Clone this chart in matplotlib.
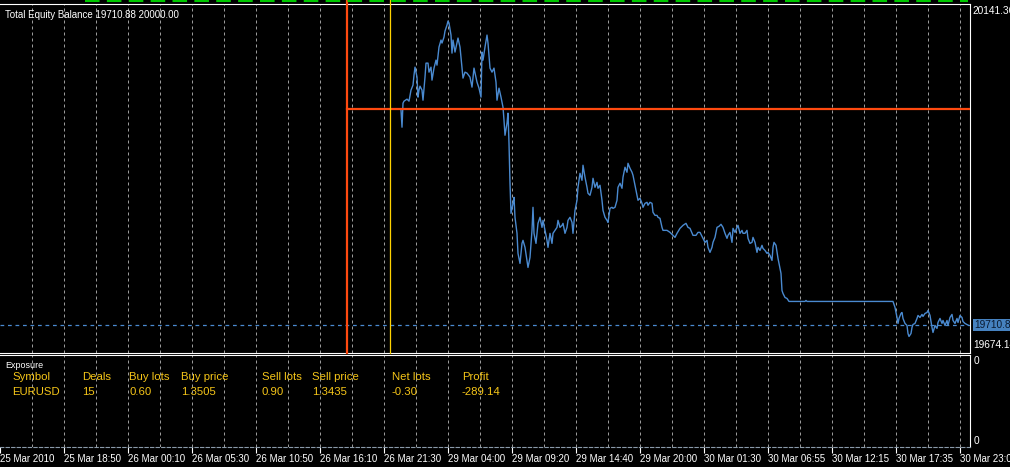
import matplotlib
matplotlib.use('Agg')
import matplotlib.pyplot as plt
from matplotlib.lines import Line2D

# ---------------- data ----------------
equity_bars = [
    401, 402, 403, 404, 407, 409, 411, 413, 414, 415,
    417, 418, 419, 420, 422, 423, 425, 426, 428, 429,
    431, 432, 434, 436, 437, 439, 441, 442, 444, 445,
    447, 448, 449, 451, 452, 453, 455, 457, 458, 460,
    462, 463, 465, 467, 470, 472, 474, 477, 479, 481,
    482, 483, 485, 487, 488, 490, 492, 494, 496, 497,
    499, 501, 503, 504, 505, 507, 508, 509, 510, 511,
    513, 514, 515, 517, 518, 520, 522, 523, 525, 527,
    528, 530, 532, 533, 534, 536, 538, 540, 542, 543,
    545, 547, 548, 550, 552, 553, 555, 557, 558, 560,
    562, 563, 565, 567, 568, 570, 572, 573, 575, 577,
    578, 580, 582, 583, 585, 587, 588, 590, 592, 593,
    595, 597, 598, 600, 602, 603, 605, 607, 608, 610,
    612, 613, 615, 617, 618, 620, 622, 623, 625, 627,
    628, 630, 632, 633, 635, 637, 638, 640, 642, 643,
    645, 647, 648, 650, 652, 653, 655, 657, 658, 660,
    662, 663, 667, 670, 673, 675, 677, 680, 683, 686,
    688, 690, 693, 696, 698, 700, 703, 705, 707, 708,
    710, 712, 713, 715, 717, 719, 721, 723, 725, 727,
    728, 730, 732, 733, 735, 737, 738, 740, 742, 743,
    745, 747, 748, 750, 752, 753, 755, 757, 758, 760,
    762, 763, 765, 767, 768, 770, 772, 773, 774, 776,
    778, 779, 781, 782, 783, 785, 787, 789, 805, 806,
    807, 893, 895, 897, 898, 899, 901, 902, 903, 905,
    907, 908, 909, 911, 912, 913, 915, 917, 918, 920,
    922, 923, 925, 927, 928, 930, 932, 933, 935, 937,
    938, 940, 942, 943, 945, 947, 948, 950, 952, 953,
    955, 957, 958, 960, 962, 963, 965, 968,
]
equity_values = [
    19999.0, 19976.2, 20008.4, 20011.1, 20013.8, 20011.1, 20025.9, 20032.6, 20046.0, 20056.7,
    20043.3, 20016.5, 20025.9, 20031.2, 20025.9, 20012.4, 20043.3, 20062.1, 20062.1, 20050.0,
    20056.7, 20039.3, 20055.4, 20066.1, 20059.4, 20083.6, 20093.0, 20089.0, 20097.0, 20105.1,
    20113.1, 20118.5, 20115.8, 20099.7, 20075.5, 20093.0, 20076.9, 20089.0, 20095.7, 20083.6,
    20055.4, 20042.0, 20050.0, 20048.7, 20043.3, 20029.9, 20055.4, 20036.6, 20028.5, 20016.5,
    20076.9, 20066.1, 20083.6, 20099.7, 20089.0, 20055.4, 20050.0, 20055.4, 20036.6, 20012.4,
    20028.5, 20016.5, 20003.0, 19985.6, 19965.4, 19981.6, 19995.0, 19954.7, 19901.0, 19860.7,
    19874.1, 19882.2, 19855.4, 19833.9, 19807.0, 19793.6, 19820.4, 19824.5, 19815.1, 19797.6,
    19788.2, 19801.6, 19837.9, 19868.8, 19833.9, 19820.4, 19847.3, 19855.4, 19841.9, 19851.3,
    19837.9, 19824.5, 19815.1, 19833.9, 19820.4, 19833.9, 19837.9, 19841.9, 19851.3, 19841.9,
    19844.6, 19847.3, 19833.9, 19841.9, 19851.3, 19855.4, 19848.6, 19833.9, 19864.7, 19878.2,
    19895.6, 19914.4, 19905.0, 19925.2, 19909.1, 19895.6, 19887.6, 19884.9, 19895.6, 19907.7,
    19895.6, 19902.3, 19894.3, 19898.3, 19878.2, 19864.7, 19855.4, 19851.3, 19848.6, 19867.4,
    19868.8, 19867.4, 19868.8, 19878.2, 19895.6, 19901.0, 19894.3, 19909.1, 19922.5, 19915.8,
    19927.8, 19921.1, 19915.8, 19911.7, 19898.3, 19884.9, 19878.2, 19880.9, 19874.1, 19868.8,
    19874.1, 19875.5, 19871.5, 19875.5, 19874.1, 19862.1, 19858.0, 19858.0, 19855.4, 19854.0,
    19841.9, 19837.9, 19837.9, 19835.2, 19831.2, 19828.5, 19833.9, 19840.6, 19844.6, 19847.3,
    19841.9, 19840.6, 19831.2, 19831.2, 19835.2, 19835.2, 19827.2, 19821.8, 19824.5, 19815.1,
    19808.4, 19815.1, 19821.8, 19828.5, 19841.9, 19843.3, 19846.0, 19841.9, 19833.9, 19827.2,
    19831.2, 19835.2, 19821.8, 19840.6, 19835.2, 19841.9, 19844.6, 19833.9, 19837.9, 19833.9,
    19833.9, 19837.9, 19827.2, 19820.4, 19821.8, 19828.5, 19821.8, 19808.4, 19815.1, 19811.0,
    19817.8, 19813.7, 19811.0, 19807.0, 19808.4, 19804.3, 19797.6, 19815.1, 19821.8, 19817.8,
    19800.3, 19793.6, 19780.2, 19757.3, 19753.3, 19747.9, 19746.6, 19742.6, 19742.6, 19743.9,
    19742.6, 19742.6, 19734.6, 19721.1, 19713.1, 19719.8, 19726.5, 19727.8, 19719.8, 19713.1,
    19710.4, 19699.6, 19695.6, 19699.6, 19707.7, 19711.7, 19713.1, 19719.8, 19723.8, 19721.1,
    19725.2, 19722.5, 19726.5, 19727.8, 19730.5, 19723.8, 19707.7, 19701.0, 19710.4, 19706.4,
    19714.4, 19719.8, 19713.1, 19717.1, 19710.4, 19717.1, 19710.4, 19721.1, 19725.2, 19717.1,
    19713.1, 19719.8, 19714.4, 19723.8, 19721.1, 19715.7, 19713.1, 19710.88,
]

balance_value = 20000.00
balance_start_bar = 347
marker_bar = 390
last_equity = 19710.88
y_max_label = 20141.36
y_min_label = 19674.14
n_bars = 970

tick_bars = [0, 64, 128, 192, 256, 320, 384, 448, 512, 576, 640, 704, 768, 832, 896, 960]
tick_labels = ["25 Mar 2010", "25 Mar 18:50", "26 Mar 00:10", "26 Mar 05:30",
               "26 Mar 10:50", "26 Mar 16:10", "26 Mar 21:30", "29 Mar 04:00",
               "29 Mar 09:20", "29 Mar 14:40", "29 Mar 20:00", "30 Mar 01:30",
               "30 Mar 06:55", "30 Mar 12:15", "30 Mar 17:35", "30 Mar 23:00"]
grid_bars = list(range(32, 970, 32))

exposure_headers = ["Symbol", "Deals", "Buy lots", "Buy price",
                    "Sell lots", "Sell price", "Net lots", "Profit"]
exposure_row = ["EURUSD", "15", "0.60", "1.3505", "0.90", "1.3435", "-0.30", "-289.14"]

# ---------------- style ----------------
W, H = 1010, 467
FONT = "Liberation Sans"
BLUE = "#4a8ad0"
ORANGE = "#ff4a10"
YELLOW = "#ffd200"
GOLD = "#f5c518"
GRID = "#9a9a9a"

fig = plt.figure(figsize=(W / 100, H / 100), dpi=100, facecolor="black")


def frac(x0, y0, x1, y1):
    return [x0 / W, 1 - y1 / H, (x1 - x0) / W, (y1 - y0) / H]


ax = fig.add_axes(frac(0, 4, 970, 352.5))
ax2 = fig.add_axes(frac(0, 355, 970, 447))

for a in (ax, ax2):
    a.set_facecolor("black")
    a.set_xlim(0, n_bars)
    for b in grid_bars:
        a.axvline(b, color=GRID, lw=0.72, ls=(0, (3, 3)), zorder=1)
    a.spines["left"].set_visible(False)
    a.spines["top"].set_color("white")
    a.spines["right"].set_color("white")
    a.set_yticks([])

# main panel
ax.set_ylim(y_min_label, y_max_label)
ax.spines["bottom"].set_color("white")
ax.set_xticks([])
ax.plot(equity_bars, equity_values, color=BLUE, lw=1.0, zorder=4)
ax.axhline(last_equity, color=BLUE, lw=0.9, ls=(0, (3, 3)), zorder=3)
ax.axhline(balance_value, xmin=balance_start_bar / n_bars, xmax=1, color=ORANGE, lw=1.6, zorder=5)
ax.axvline(balance_start_bar, ymin=0, ymax=1.012, color=ORANGE, lw=1.6, zorder=5, clip_on=False)
ax.axvline(marker_bar, ymin=0, ymax=1.012, color=YELLOW, lw=0.9, zorder=5, clip_on=False)

ax.text(5 / 970, 1 - 10.5 / 348.5, f"Total Equity Balance {last_equity:.2f} {balance_value:.2f}",
        transform=ax.transAxes, color="white", fontsize=7, family=FONT, va="center", ha="left")
ax.text(1.003, 1 - 2 / 348.5, f"{y_max_label:.2f}", transform=ax.transAxes, color="white",
        fontsize=7.3, family=FONT, va="top", ha="left", clip_on=False)
ax.text(1.003, 2 / 348.5, f"{y_min_label:.2f}", transform=ax.transAxes, color="white",
        fontsize=7.3, family=FONT, va="bottom", ha="left", clip_on=False)
ax.annotate(f"{last_equity:.2f}", xy=(1.0, last_equity), xycoords=("axes fraction", "data"),
            xytext=(3, 0), textcoords="offset points", color="#0a1a30", fontsize=7.3, family=FONT,
            va="center", ha="left", annotation_clip=False,
            bbox=dict(boxstyle="square,pad=0.12", fc="#4682c0", ec="none"))

# exposure panel
ax2.set_ylim(0, 1)
ax2.spines["bottom"].set_color("#8a9aaa")
ax2.spines["bottom"].set_linestyle((0, (3, 2)))
ax2.set_xticks(tick_bars)
ax2.set_xticklabels(tick_labels, ha="left", family=FONT, fontsize=7, color="white")
ax2.tick_params(axis="x", colors="white", length=4, width=0.8, pad=1, labelcolor="white")
ax2.text(5 / 970, 1 - 10.5 / 92, "Exposure", transform=ax2.transAxes, color="white",
         fontsize=6.5, family=FONT, va="center", ha="left")
col_px = [12, 82, 129, 181, 262, 312, 392, 462]
for xp, hdr, val in zip(col_px, exposure_headers, exposure_row):
    ax2.text(xp / 970, 1 - 22 / 92, hdr, transform=ax2.transAxes, color=GOLD,
             fontsize=8.2, family=FONT, va="center", ha="left")
    ax2.text(xp / 970, 1 - 37 / 92, val, transform=ax2.transAxes, color=GOLD,
             fontsize=8.2, family=FONT, va="center", ha="left")
ax2.text(1.004, 1 - 1 / 92, "0", transform=ax2.transAxes, color="white", fontsize=7.3,
         family=FONT, va="top", ha="left")
ax2.text(1.004, 1 / 92, "0", transform=ax2.transAxes, color="white", fontsize=7.3,
         family=FONT, va="bottom", ha="left")

# top green strip
fig.add_artist(Line2D([85 / W, 968 / W], [1 - 1.2 / H, 1 - 1.2 / H], color="#00c800", lw=1.5,
                      ls=(0, (7, 3.5))))

fig.savefig("out.png", dpi=100, facecolor="black")
